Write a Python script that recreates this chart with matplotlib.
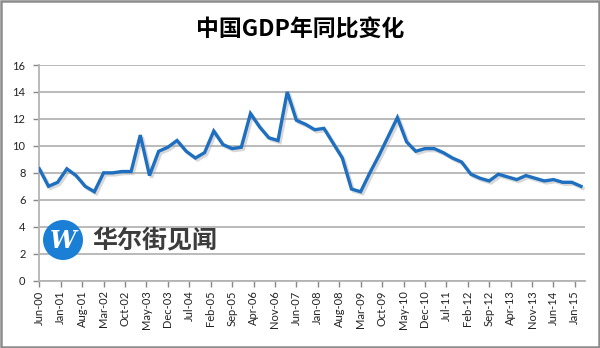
import numpy as np
import matplotlib
matplotlib.use("Agg")
from matplotlib import pyplot as plt
from matplotlib import patheffects as pe
from matplotlib.patches import Ellipse, Rectangle

plt.rcParams['font.family'] = ['Noto Sans CJK SC', 'DejaVu Sans']

# quarterly GDP yoy, Jun-00 .. Mar-15
gdp = [8.3, 7.0, 7.3,
       8.3, 7.8, 7.0, 6.6,
       8.0, 8.0, 8.1, 8.1,
       10.8, 7.8, 9.6, 9.9,
       10.4, 9.6, 9.1, 9.5,
       11.1, 10.1, 9.8, 9.9,
       12.4, 11.4, 10.6, 10.4,
       14.0, 11.9, 11.6, 11.2,
       11.3, 10.2, 9.1, 6.8,
       6.6, 8.0, 9.3, 10.7,
       12.1, 10.3, 9.6, 9.8,
       9.8, 9.5, 9.1, 8.8,
       7.9, 7.6, 7.4, 7.9,
       7.7, 7.5, 7.8, 7.6,
       7.4, 7.5, 7.3, 7.3,
       7.0]
tick_labels = ["Jun-00", "Jan-01", "Aug-01", "Mar-02", "Oct-02", "May-03",
               "Dec-03", "Jul-04", "Feb-05", "Sep-05", "Apr-06", "Nov-06",
               "Jun-07", "Jan-08", "Aug-08", "Mar-09", "Oct-09", "May-10",
               "Dec-10", "Jul-11", "Feb-12", "Sep-12", "Apr-13", "Nov-13",
               "Jun-14", "Jan-15"]

# months since Jun-00
months = np.arange(len(gdp)) * 3
tick_pos = np.arange(len(tick_labels)) * 7

fig = plt.figure(figsize=(6, 3.48), dpi=100)
ax = fig.add_axes([0.0655, 0.1934, 0.9095, 0.6198])

ax.plot(months, gdp, color="#1f6fc0", lw=2.4, solid_joinstyle="miter",
        path_effects=[pe.SimpleLineShadow(offset=(1.5, -1.5), shadow_color="#aaaaaa", alpha=0.45),
                      pe.Normal()], zorder=3)

ax.set_xlim(0, 178.3)
ax.set_ylim(0, 16)
ax.set_yticks(np.arange(0, 17, 2))
ax.yaxis.grid(True, color="#b4b4b4", lw=1.3)
ax.set_axisbelow(True)
ax.set_xticks(tick_pos)
ax.set_xticklabels(tick_labels, rotation=90, fontsize=8, color="#222222", family="Lato")
for lab in ax.get_yticklabels():
    lab.set_family("Lato")
ax.tick_params(axis="y", labelsize=8, colors="#888888", labelcolor="#222222",
               length=4, width=1, pad=6)
ax.tick_params(axis="x", colors="#888888", labelcolor="#222222",
               length=4, width=1, pad=3)
for s in ["top", "right"]:
    ax.spines[s].set_visible(False)
for s in ["left", "bottom"]:
    ax.spines[s].set_color("#b4b4b4")
    ax.spines[s].set_linewidth(1.3)

fig.text(0.5, 0.912, "中国GDP年同比变化", ha="center", va="center",
         fontsize=16.5, fontweight="bold", color="black")

# watermark
circ = Ellipse((63 / 600, 1 - 240 / 348), 40 / 600, 40 / 348, transform=fig.transFigure,
               facecolor="#1b7fd6", edgecolor="none", zorder=5)
fig.patches.append(circ)
fig.text(63 / 600, 1 - 241 / 348, "W", ha="center", va="center",
         fontsize=17, fontweight="bold", color="white", style="italic",
         family="DejaVu Serif", zorder=6)
fig.text(92 / 600, 1 - 240 / 348, "华尔街见闻", ha="left", va="center",
         fontsize=18, fontweight="bold", color="#3c3c3c", zorder=6)

# outer frame
fig.patches.append(Rectangle((0.002, 0.003), 0.996, 0.994, transform=fig.transFigure,
                             fill=False, edgecolor="#8c8c8c", lw=1.8))

fig.savefig("out.png", dpi=100)
